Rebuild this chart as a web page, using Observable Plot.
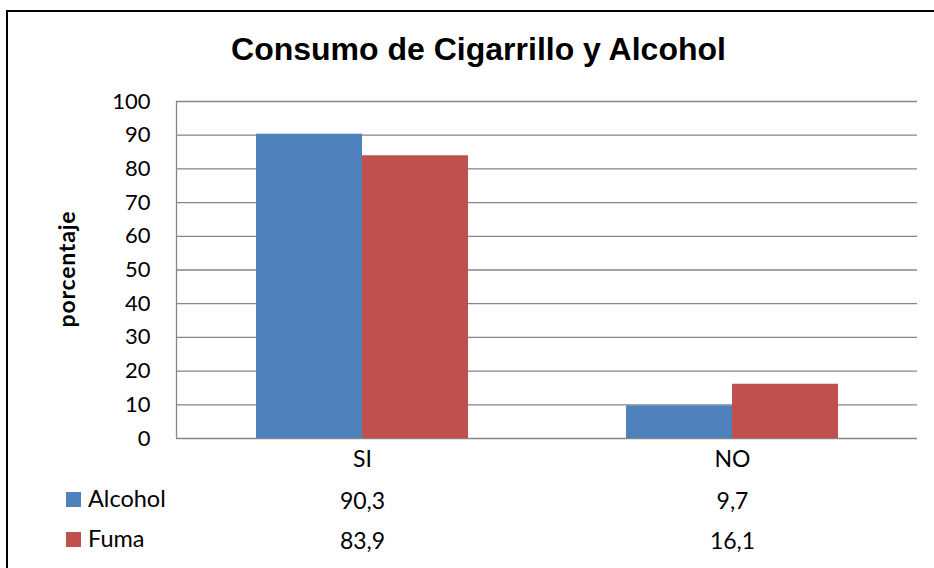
<!DOCTYPE html>
<html>
<head>
<meta charset="utf-8">
<script src="https://cdn.jsdelivr.net/npm/d3@7"></script>
<script src="https://cdn.jsdelivr.net/npm/@observablehq/plot@0.6"></script>
<style>
  html, body { margin: 0; padding: 0; background: #fff; }
  #wrap { position: relative; width: 934px; height: 568px; overflow: hidden; background: #fff; }
  #frame { position: absolute; left: 6px; top: 10px; width: 1000px; height: 700px; border-left: 2px solid #000; border-top: 2px solid #000; }
  #title { position: absolute; left: 0; width: 957px; top: 31px; text-align: center; font: bold 32px "Liberation Sans", Arial, sans-serif; color: #000; white-space: nowrap; }
  .layer { position: absolute; left: 0; top: 0; }
  #ylabel { position: absolute; left: 66px; top: 269px; transform: translate(-50%, -50%) rotate(-90deg); font: bold 23px Lato, sans-serif; letter-spacing: 0.8px; white-space: nowrap; color: #000; }
  .leg { position: absolute; left: 88px; font: 23.5px Lato, sans-serif; line-height: 24px; color: #000; white-space: nowrap; }
  .sw { position: absolute; left: 66px; width: 15px; height: 15px; }
</style>
</head>
<body>
<div id="wrap">
  <div id="frame"></div>
  <div id="title">Consumo de Cigarrillo y Alcohol</div>
  <div id="bg" class="layer"></div>
  <div id="fg" class="layer"></div>
  <div id="ylabel">porcentaje</div>
  <div id="legend"></div>
</div>
<script>
const categories = ["SI", "NO"];
const series = ["Alcohol", "Fuma"];
const alcohol = [90.3, 9.7];
const fuma = [83.9, 16.1];
const colors = ["#4F81BD", "#C0504D"];
const yTicks = [0, 10, 20, 30, 40, 50, 60, 70, 80, 90, 100];

const seriesValues = { Alcohol: alcohol, Fuma: fuma };
const rows = categories.flatMap((c, i) => series.map(s => ({ cat: c, s, v: seriesValues[s][i] })));
const fmt = v => v.toFixed(1).replace(".", ",");

const W = 934, H = 568;
const margins = { marginLeft: 176, marginRight: 17, marginTop: 101, marginBottom: 130 };

const bg = Plot.plot({
  width: W, height: H, ...margins,
  style: { fontFamily: "Lato, sans-serif", fontSize: "22px", color: "#000", background: "transparent" },
  x: { domain: [0, 1], axis: null },
  y: { domain: [0, 100], axis: null },
  marks: [
    Plot.ruleY(yTicks, { stroke: "#868686", strokeWidth: 1.3 }),
    Plot.ruleX([0], { stroke: "#868686", strokeWidth: 1.3 }),
    Plot.axisY({ ticks: yTicks, tickSize: 0, tickPadding: 26, label: null, fontSize: 22 })
  ]
});
document.getElementById("bg").appendChild(bg);

const fg = Plot.plot({
  width: W, height: H, ...margins,
  style: { fontFamily: "Lato, sans-serif", fontSize: "23px", color: "#000", background: "transparent" },
  facet: { data: rows, x: "cat" },
  fx: { domain: categories, padding: 0, axis: null },
  x: { domain: series, paddingInner: 0, paddingOuter: 0.745, axis: null },
  y: { domain: [0, 100], axis: null },
  color: { domain: series, range: colors },
  marks: [
    Plot.barY(rows, { x: "s", y: "v", fill: "s" }),
    Plot.text(rows, { filter: d => d.s === series[0], text: "cat", frameAnchor: "bottom", lineAnchor: "bottom", dy: 28, fontSize: 23, fill: "#000" }),
    Plot.text(rows, { filter: d => d.s === series[0], text: d => fmt(d.v), frameAnchor: "bottom", lineAnchor: "bottom", dy: 70, fontSize: 23, fill: "#000" }),
    Plot.text(rows, { filter: d => d.s === series[1], text: d => fmt(d.v), frameAnchor: "bottom", lineAnchor: "bottom", dy: 110, fontSize: 23, fill: "#000" })
  ]
});
document.getElementById("fg").appendChild(fg);

const legend = document.getElementById("legend");
const legendTextTops = [486, 526];
const swatchTops = [492, 532];
series.forEach((s, i) => {
  const sw = document.createElement("div");
  sw.className = "sw";
  sw.style.top = swatchTops[i] + "px";
  sw.style.background = colors[i];
  legend.appendChild(sw);
  const div = document.createElement("div");
  div.className = "leg";
  div.style.top = legendTextTops[i] + "px";
  div.textContent = s;
  legend.appendChild(div);
});
</script>
</body>
</html>
